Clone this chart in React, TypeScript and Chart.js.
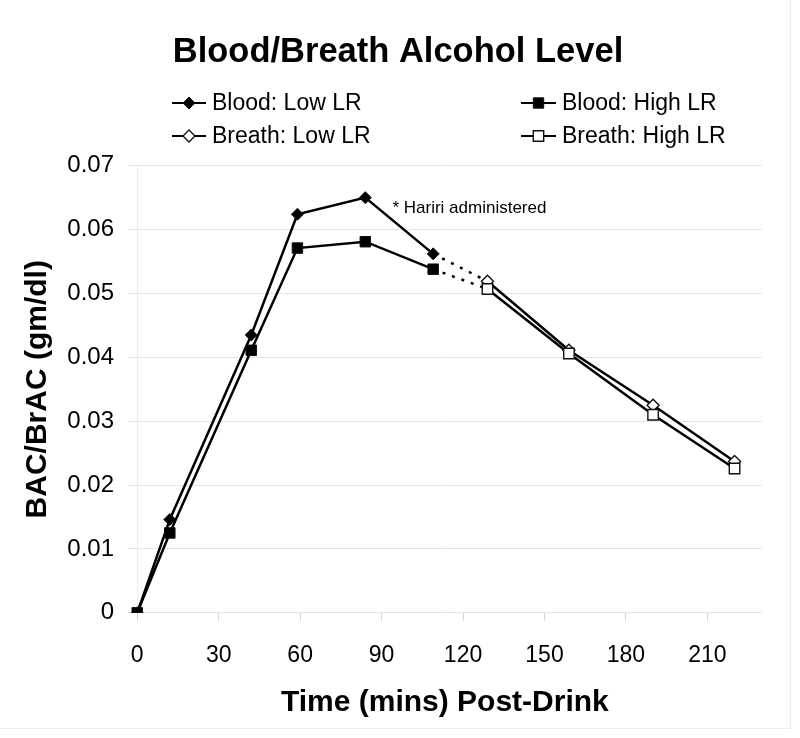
import React, { useEffect, useRef } from 'react';
import { Chart, registerables } from 'chart.js';

Chart.register(...registerables);

const FONT = "'Liberation Sans', Arial, Helvetica, sans-serif";

const chartTitle = 'Blood/Breath Alcohol Level';
const xAxisTitle = 'Time (mins) Post-Drink';
const yAxisTitle = 'BAC/BrAC (gm/dl)';
const annotationText = '* Hariri administered';
const annotationAt = { x: 94, y: 0.0633 };

const seriesLabels = ['Blood: Low LR', 'Blood: High LR', 'Breath: Low LR', 'Breath: High LR'];

const bloodTimes = [0, 12, 42, 59, 84, 109];
const bloodLowLR = [0, 0.0146, 0.0435, 0.0624, 0.065, 0.0562];
const bloodHighLR = [0, 0.0125, 0.0411, 0.0571, 0.0581, 0.0538];

const breathTimes = [129, 159, 190, 220];
const breathLowLR = [0.0519, 0.0411, 0.0325, 0.0237];
const breathHighLR = [0.0507, 0.0406, 0.031, 0.0226];

const xTicks = [0, 30, 60, 90, 120, 150, 180, 210];
const yTicks = [0, 0.01, 0.02, 0.03, 0.04, 0.05, 0.06, 0.07];

const zip = (xs: number[], ys: number[]) => xs.map((x, i) => ({ x, y: ys[i] }));
const last = (a: number[]) => a[a.length - 1];

type MarkerKind = 'diamond' | 'square';

function drawMarker(ctx: CanvasRenderingContext2D, kind: MarkerKind, filled: boolean, x: number, y: number) {
  ctx.save();
  ctx.beginPath();
  if (kind === 'diamond') {
    const r = 6;
    ctx.moveTo(x, y - r);
    ctx.lineTo(x + r, y);
    ctx.lineTo(x, y + r);
    ctx.lineTo(x - r, y);
    ctx.closePath();
  } else {
    const h = 5.2;
    ctx.rect(x - h, y - h, 2 * h, 2 * h);
  }
  ctx.fillStyle = filled ? '#000' : '#fff';
  ctx.fill();
  ctx.lineWidth = filled ? 1 : 1.4;
  ctx.strokeStyle = '#111';
  ctx.stroke();
  ctx.restore();
}

const legendItems: { kind: MarkerKind; filled: boolean; col: number; row: number }[] = [
  { kind: 'diamond', filled: true, col: 0, row: 0 },
  { kind: 'square', filled: true, col: 1, row: 0 },
  { kind: 'diamond', filled: false, col: 0, row: 1 },
  { kind: 'square', filled: false, col: 1, row: 1 },
];

const titleLegendPlugin = {
  id: 'titleAndLegend',
  afterDraw(chart: any) {
    const ctx: CanvasRenderingContext2D = chart.ctx;
    ctx.save();
    ctx.fillStyle = '#000';
    ctx.font = `bold 34.5px ${FONT}`;
    ctx.textAlign = 'center';
    ctx.textBaseline = 'middle';
    ctx.fillText(chartTitle, 398, 52);

    const colX = [{ l0: 172, l1: 206, t: 212 }, { l0: 521, l1: 556, t: 562 }];
    const rowY = [103, 136];
    legendItems.forEach((it, i) => {
      const c = colX[it.col];
      const y = rowY[it.row];
      ctx.beginPath();
      ctx.moveTo(c.l0, y);
      ctx.lineTo(c.l1, y);
      ctx.lineWidth = 2.2;
      ctx.strokeStyle = '#000';
      ctx.stroke();
      drawMarker(ctx, it.kind, it.filled, (c.l0 + c.l1) / 2, y);
      ctx.fillStyle = '#000';
      ctx.font = `23px ${FONT}`;
      ctx.textAlign = 'left';
      ctx.textBaseline = 'middle';
      ctx.fillText(seriesLabels[i], c.t, y + 1);
    });
    ctx.restore();
  },
};

const annotationPlugin = {
  id: 'annotationText',
  afterDatasetsDraw(chart: any) {
    const ctx: CanvasRenderingContext2D = chart.ctx;
    const xs = chart.scales.x;
    const ys = chart.scales.y;
    ctx.save();
    ctx.fillStyle = '#000';
    ctx.font = `17px ${FONT}`;
    ctx.textAlign = 'left';
    ctx.textBaseline = 'middle';
    ctx.fillText(annotationText, xs.getPixelForValue(annotationAt.x), ys.getPixelForValue(annotationAt.y));
    ctx.restore();
  },
};

const framePlugin = {
  id: 'frame',
  beforeDraw(chart: any) {
    const ctx: CanvasRenderingContext2D = chart.ctx;
    ctx.save();
    ctx.fillStyle = '#fff';
    ctx.fillRect(0, 0, chart.width, chart.height);
    ctx.strokeStyle = '#ececec';
    ctx.lineWidth = 1;
    ctx.beginPath();
    ctx.moveTo(790.5, 0);
    ctx.lineTo(790.5, 728.5);
    ctx.lineTo(0, 728.5);
    ctx.stroke();
    ctx.restore();
  },
};

export default function App() {
  const canvasRef = useRef<HTMLCanvasElement | null>(null);

  useEffect(() => {
    if (!canvasRef.current) return;
    const lineBase = {
      borderColor: '#000',
      borderWidth: 2.5,
      tension: 0,
      pointBorderColor: '#111',
    };
    const chart = new Chart(canvasRef.current, {
      type: 'line',
      data: {
        datasets: [
          {
            ...lineBase,
            label: seriesLabels[0],
            data: zip(bloodTimes, bloodLowLR),
            backgroundColor: '#000',
            pointBackgroundColor: '#000',
            pointStyle: 'rectRot',
            pointRadius: 6,
            pointBorderWidth: 1,
            order: 4,
          },
          {
            ...lineBase,
            label: seriesLabels[1],
            data: zip(bloodTimes, bloodHighLR),
            backgroundColor: '#000',
            pointBackgroundColor: '#000',
            pointStyle: 'rect',
            pointRadius: 7.4,
            pointBorderWidth: 1,
            order: 3,
          },
          {
            ...lineBase,
            label: seriesLabels[2],
            data: zip(breathTimes, breathLowLR),
            backgroundColor: '#fff',
            pointBackgroundColor: '#fff',
            pointStyle: 'rectRot',
            pointRadius: 6,
            pointBorderWidth: 1.4,
            order: 2,
          },
          {
            ...lineBase,
            label: seriesLabels[3],
            data: zip(breathTimes, breathHighLR),
            backgroundColor: '#fff',
            pointBackgroundColor: '#fff',
            pointStyle: 'rect',
            pointRadius: 7.4,
            pointBorderWidth: 1.4,
            order: 1,
          },
          {
            label: 'connector low',
            data: [
              { x: last(bloodTimes), y: last(bloodLowLR) },
              { x: breathTimes[0], y: breathLowLR[0] },
            ],
            borderColor: '#000',
            borderWidth: 2.5,
            borderDash: [3, 7],
            pointRadius: 0,
            order: 5,
          },
          {
            label: 'connector high',
            data: [
              { x: last(bloodTimes), y: last(bloodHighLR) },
              { x: breathTimes[0], y: breathHighLR[0] },
            ],
            borderColor: '#000',
            borderWidth: 2.5,
            borderDash: [3, 7],
            pointRadius: 0,
            order: 5,
          },
        ],
      },
      options: {
        animation: false,
        responsive: false,
        maintainAspectRatio: false,
        layout: { padding: { left: 0, right: 38.3, top: 165.7, bottom: 0 } },
        plugins: {
          legend: { display: false },
          tooltip: { enabled: false },
          title: { display: false },
        },
        scales: {
          x: {
            type: 'linear',
            min: -3.4,
            max: 230,
            afterBuildTicks: (s: any) => {
              s.ticks = xTicks.map((v) => ({ value: v }));
            },
            afterFit: (s: any) => {
              s.height = 125.2;
            },
            grid: {
              drawOnChartArea: true,
              drawTicks: true,
              tickLength: 8,
              color: (c: any) => (c.tick && c.tick.value === 0 ? 'rgba(0,0,0,0.07)' : 'rgba(0,0,0,0)'),
              tickColor: '#d6d6d6',
            },
            border: { display: false },
            ticks: {
              color: '#000',
              padding: 21,
              font: { family: FONT, size: 23 },
              callback: (v: any) => String(v),
            },
            title: {
              display: true,
              text: xAxisTitle,
              color: '#000',
              font: { family: FONT, size: 30, weight: 'bold' },
              padding: { top: 0, bottom: 17 },
            },
          },
          y: {
            type: 'linear',
            min: 0,
            max: 0.07,
            afterBuildTicks: (s: any) => {
              s.ticks = yTicks.map((v) => ({ value: v }));
            },
            afterFit: (s: any) => {
              s.width = 128;
            },
            grid: { color: '#e4e4e4', lineWidth: 1, drawTicks: false },
            border: { display: false },
            ticks: {
              color: '#000',
              padding: 14,
              font: { family: FONT, size: 24 },
              callback: (v: any) => (v === 0 ? '0' : Number(v).toFixed(2)),
            },
            title: {
              display: true,
              text: yAxisTitle,
              color: '#000',
              font: { family: FONT, size: 30, weight: 'bold' },
              padding: { top: 20, bottom: 0 },
            },
          },
        },
      },
      plugins: [framePlugin, annotationPlugin, titleLegendPlugin],
    } as any);
    return () => chart.destroy();
  }, []);

  return (
    <div style={{ position: 'fixed', left: 0, top: 0, width: 800, height: 738, background: '#fff' }}>
      <canvas ref={canvasRef} width={800} height={738} style={{ width: 800, height: 738, display: 'block' }} />
    </div>
  );
}
